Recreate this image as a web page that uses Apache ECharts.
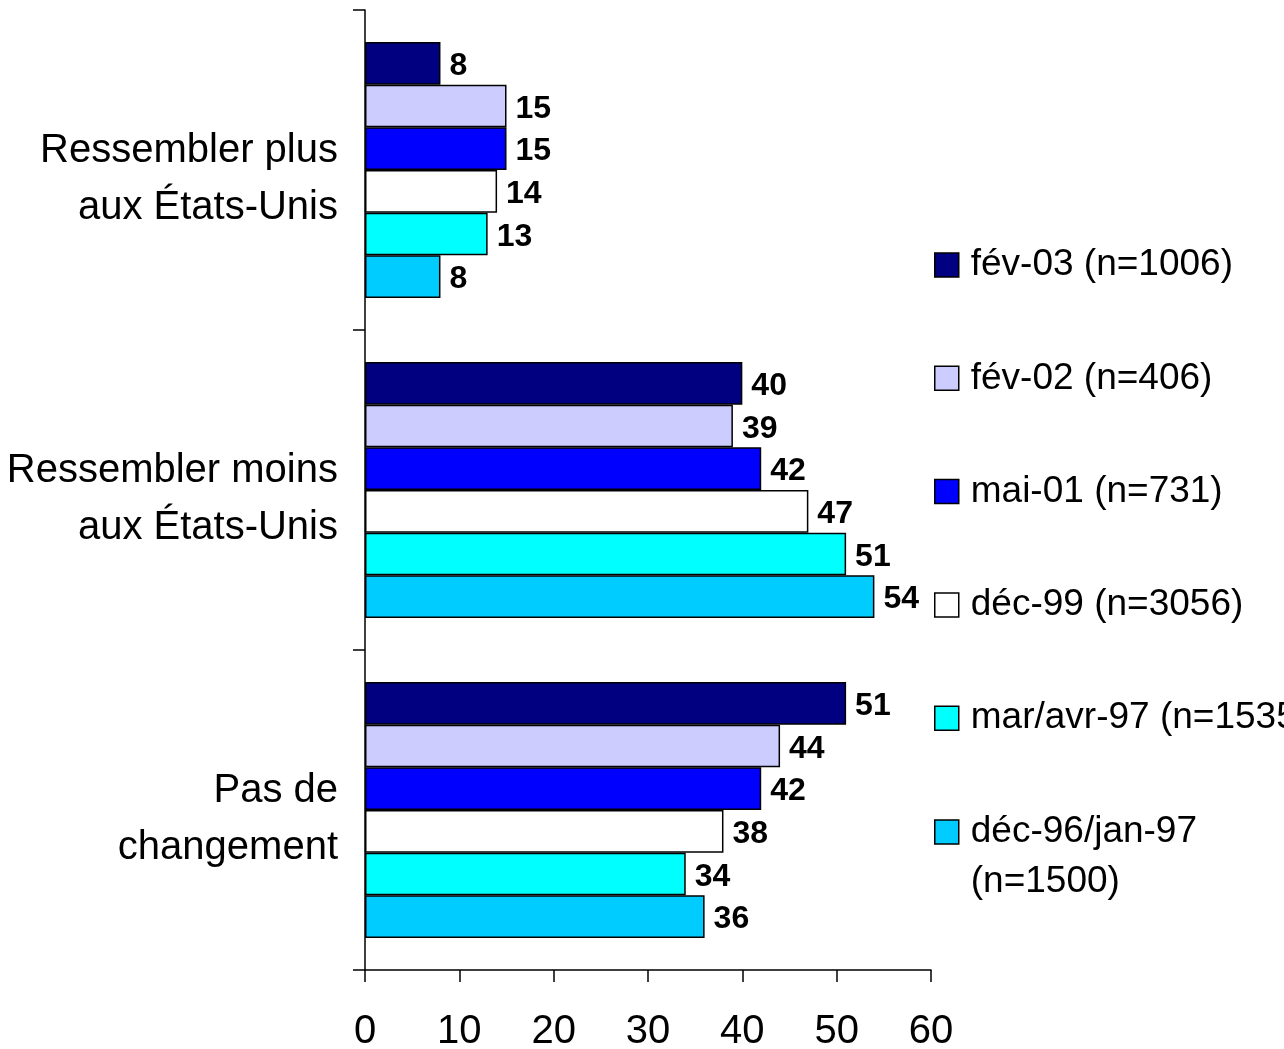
<!DOCTYPE html>
<html>
<head>
<meta charset="utf-8">
<script src="https://cdn.jsdelivr.net/npm/echarts@6/dist/echarts.min.js"></script>
<style>html,body{margin:0;padding:0;background:#fff;}#c{width:1284px;height:1049px;}</style>
</head>
<body>
<div id="c"></div>
<script>
const categories = ["Ressembler plus\naux États-Unis", "Ressembler moins\naux États-Unis", "Pas de\nchangement"];
const seriesNames = ["fév-03 (n=1006)", "fév-02 (n=406)", "mai-01 (n=731)", "déc-99 (n=3056)", "mar/avr-97 (n=1535)", "déc-96/jan-97 (n=1500)"];
const fev03 = [8, 40, 51];
const fev02 = [15, 39, 44];
const mai01 = [15, 42, 42];
const dec99 = [14, 47, 38];
const marAvr97 = [13, 51, 34];
const dec96jan97 = [8, 54, 36];
const xTicks = [0, 10, 20, 30, 40, 50, 60];

const values = [fev03, fev02, mai01, dec99, marAvr97, dec96jan97];
const colors = ["#000080", "#CCCCFF", "#0000FF", "#FFFFFF", "#00FFFF", "#00CCFF"];
const font = "'Liberation Sans', Arial, sans-serif";

const chart = echarts.init(document.getElementById('c'), null, {renderer: 'canvas'});
const series = seriesNames.map((n, i) => ({
  name: n,
  type: 'bar',
  data: values[i],
  barGap: '0%',
  barCategoryGap: '20%',
  itemStyle: {color: colors[i], borderColor: '#000', borderWidth: 1.5},
  label: {
    show: true, position: 'right', distance: 9, offset: [0, 3],
    fontFamily: font, fontWeight: 'bold', fontSize: 32, color: '#000'
  }
}));
const legendText = {
  fontFamily: font, fontSize: 37, color: '#000', lineHeight: 50, padding: [0, 0, 0, 7]
};
const catRich = {fontFamily: font, fontSize: 40, lineHeight: 57, color: '#000', align: 'right'};
chart.setOption({
  animation: false,
  backgroundColor: '#fff',
  grid: {left: 365, right: 353, top: 10, bottom: 79, outerBoundsMode: 'none', containLabel: false},
  legend: [{
    data: seriesNames.slice(0, 5),
    orient: 'vertical',
    left: 929, top: 235,
    itemWidth: 24, itemHeight: 24,
    itemGap: 63.3,
    icon: 'rect',
    textStyle: legendText,
    itemStyle: {borderColor: '#000', borderWidth: 1.5}
  }, {
    data: seriesNames.slice(5),
    orient: 'vertical',
    left: 929, top: 752,
    itemWidth: 24, itemHeight: 24,
    icon: 'rect',
    formatter: function (name) { return ' \n' + name.replace(' (', '\n('); },
    textStyle: legendText,
    itemStyle: {borderColor: '#000', borderWidth: 1.5}
  }],
  xAxis: {
    type: 'value', min: xTicks[0], max: xTicks[xTicks.length - 1], interval: 10,
    splitLine: {show: false},
    axisLine: {show: true, lineStyle: {color: '#000', width: 1.5}},
    axisTick: {show: true, length: 12, lineStyle: {color: '#000', width: 1.5}},
    axisLabel: {margin: 42, color: '#000', fontSize: 40, fontFamily: font}
  },
  yAxis: {
    type: 'category', data: categories, inverse: true,
    axisLine: {show: true, lineStyle: {color: '#000', width: 1.5}},
    axisTick: {show: true, length: 12, lineStyle: {color: '#000', width: 1.5}},
    axisLabel: {
      margin: 27, color: '#000', fontSize: 40, lineHeight: 57,
      fontFamily: font, align: 'right',
      formatter: function (v) {
        const parts = v.split('\n');
        return '{s| }\n{a|' + parts[0] + '}\n{a|' + parts[1] + '}';
      },
      rich: {
        s: {fontSize: 10, lineHeight: 18},
        a: catRich
      }
    }
  },
  series: series
});
</script>
</body>
</html>
